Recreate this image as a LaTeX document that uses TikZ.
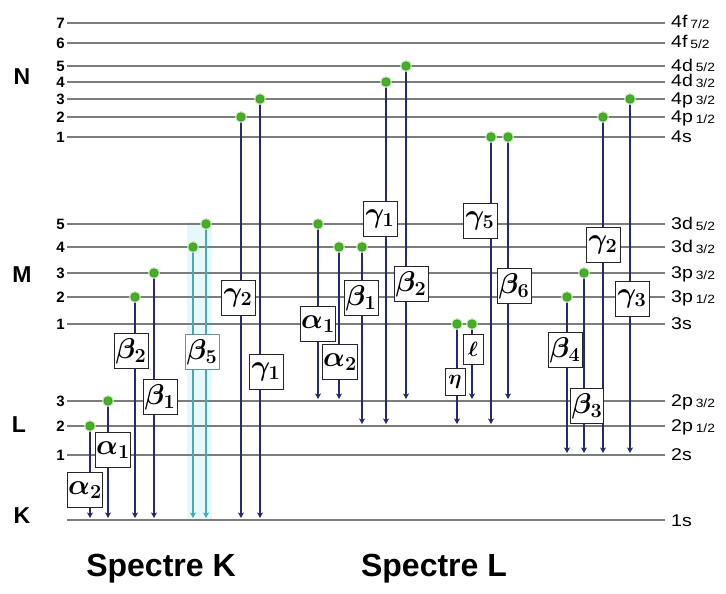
\documentclass[tikz,border=0pt]{standalone}
\usepackage{fontspec}
\setmainfont{Liberation Sans}
\newfontfamily\orbfont[FakeStretch=1.15]{Liberation Sans}
\usepackage{bm}
\usepackage{graphicx}
\usetikzlibrary{arrows.meta}

\definecolor{levelgray}{RGB}{125,125,125}
\definecolor{linenavy}{RGB}{40,40,115}
\definecolor{dotgreen}{RGB}{70,175,40}
\definecolor{glowgreen}{RGB}{190,235,170}
\definecolor{lineteal}{RGB}{70,170,180}
\definecolor{boxteal}{RGB}{100,150,150}
\definecolor{glowcyan}{RGB}{230,248,251}

\newcommand{\gsym}[2]{\scalebox{1.15}{$\bm{#1}_{\bm{#2}}$}}

\begin{document}
\begin{tikzpicture}[x=1pt, y=-1pt,
    level/.style={levelgray, line width=2.6pt},
    num/.style={anchor=east, inner sep=2pt, font=\fontsize{15}{15}\selectfont\bfseries},
    shell/.style={font=\fontsize{23}{23}\selectfont\bfseries},
    orb/.style={anchor=base west, inner sep=0pt, font=\orbfont\fontsize{17}{17}\selectfont},
    dot/.style={circle, inner sep=0pt, minimum size=8.5pt, fill=dotgreen, draw=dotgreen!70!black, line width=0.4pt, preaction={draw=glowgreen, line width=3pt}},
    trans/.style={linenavy, line width=1.2pt, shorten >=2pt, -{Stealth[length=5.5pt, width=6pt, inset=1.5pt]}},
    lbl/.style={draw=black!85, line width=0.9pt, fill=white, minimum width=34pt, minimum height=35pt, inner sep=1pt, font=\fontsize{25}{25}\selectfont},
    smalllbl/.style={lbl, minimum width=20pt, minimum height=27pt, font=\fontsize{18}{18}\selectfont},
    title/.style={anchor=base, font=\fontsize{32}{32}\selectfont\bfseries}]

\useasboundingbox (0,0) rectangle (726,594);

% glow behind the beta_5 lines
\fill[glowcyan] (187,222) rectangle (212,521);

% energy levels
\foreach \y/\n/\o/\s [count=\i] in {23/7/4f/{7/2}, 43/6/4f/{5/2}, 66/5/4d/{5/2}, 82/4/4d/{3/2},
    99/3/4p/{3/2}, 117/2/4p/{1/2}, 137/1/4s/{}, 224/5/3d/{5/2}, 247/4/3d/{3/2}, 273/3/3p/{3/2},
    297/2/3p/{1/2}, 324/1/3s/{}, 401/3/2p/{3/2}, 426/2/2p/{1/2}, 455/1/2s/{}}
  {
  \node[num] (n\i) at (67,\y) {\n};
  \node[orb] (o\i) at (671,\y+5) {\o\,\raisebox{-1pt}{\fontsize{12}{12}\selectfont\s}};
  \draw[level] (n\i.east) -- (665,\y);
  }
\node[orb] (o16) at (671,526) {1s};
\draw[level] (67,520) -- (665,520);

\node[shell] (N) at (22,77) {N};
\node[shell] (M) at (22,275) {M};
\node[shell] (L) at (19,425) {L};
\node[shell] (K) at (22,516) {K};

% transitions
\foreach \n/\x/\t/\b/\bx/\by/\g/\k in {
    ka2/90/426/520/85/490/\alpha/2, ka1/108/401/520/113/450/\alpha/1,
    kb2/135/297/520/131/351/\beta/2, kb1/154/273/520/160/397/\beta/1,
    kg2/241/117/520/238/298/\gamma/2, kg1/260/99/520/266/372/\gamma/1,
    la1/318/224/401/318/324/\alpha/1, la2/339/247/401/340/362/\alpha/2,
    lb1/362/247/426/361/298/\beta/1, lg1/386/82/426/380/219/\gamma/1,
    lb2/406/66/401/411/284/\beta/2, lg5/491/137/426/480/221/\gamma/5,
    lb6/508/137/401/514/286/\beta/6, lb4/567/297/455/565/350/\beta/4,
    lg2/603/117/455/603/245/\gamma/2, lg3/630/99/455/632/299/\gamma/3}
  {
  \coordinate (\n-t) at (\x,\t);
  \coordinate (\n-b) at (\x,\b);
  \draw[trans] (\n-t) -- (\n-b);
  \node[dot] (\n-d) at (\n-t) {};
  \node[lbl] (\n) at (\bx,\by) {\gsym{\g}{\k}};
  }

% K beta_5 (two teal lines)
\coordinate (kb5a-t) at (193,247);
\coordinate (kb5a-b) at (193,520);
\coordinate (kb5b-t) at (206,224);
\coordinate (kb5b-b) at (206,520);
\draw[trans, lineteal] (kb5a-t) -- (kb5a-b);
\draw[trans, lineteal] (kb5b-t) -- (kb5b-b);
\node[dot] (kb5a-d) at (kb5a-t) {};
\node[dot] (kb5b-d) at (kb5b-t) {};
\node[lbl, draw=boxteal] (kb5) at (202,352) {\gsym{\beta}{5}};

% L eta and l
\coordinate (leta-t) at (457,324);
\coordinate (leta-b) at (457,426);
\coordinate (lell-t) at (472,324);
\coordinate (lell-b) at (472,401);
\draw[trans] (leta-t) -- (leta-b);
\draw[trans] (lell-t) -- (lell-b);
\node[dot] (leta-d) at (leta-t) {};
\node[dot] (lell-d) at (lell-t) {};
\node[smalllbl] (leta) at (455,382) {\scalebox{1.2}{$\bm{\eta}$}};
\node[smalllbl, minimum height=30pt] (lell) at (473,349) {\scalebox{1.2}{$\bm{\ell}$}};

% L beta_3
\coordinate (lb3-t) at (584,273);
\coordinate (lb3-b) at (584,455);
\draw[trans] (lb3-t) -- (lb3-b);
\node[dot] (lb3-d) at (lb3-t) {};
\node[lbl, minimum width=26pt] (lb3) at (587,406) {\gsym{\beta}{3}};

\node[title] (specK) at (161,576) {Spectre K};
\node[title] (specL) at (434,576) {Spectre L};
\end{tikzpicture}
\end{document}
